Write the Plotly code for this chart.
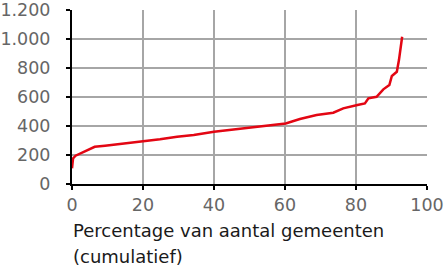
import plotly.graph_objects as go

pct = [0, 0.3, 1.0, 2.2, 3.5, 5.0, 6.4, 9.3, 13.5, 20, 24.8, 29.6, 34.3, 40, 43.8, 48.5,
       53.2, 60.2, 64.2, 68.9, 73.6, 76.4, 80.4, 82.5, 83.5, 85.8, 87.7, 89.4, 90.1,
       91.5, 92.1, 92.6, 93.0]
values = [108, 177, 195, 210, 225, 241, 257, 264, 276, 292, 308, 326, 338, 361, 372, 384,
          400, 418, 448, 476, 492, 522, 545, 556, 591, 602, 653, 683, 745, 774, 855, 947, 1016]

x_ticks = [0, 20, 40, 60, 80, 100]
y_ticks = [0, 200, 400, 600, 800, 1000, 1200]
x_title_lines = ["Percentage van aantal gemeenten", "(cumulatief)"]

fig = go.Figure()
fig.add_trace(go.Scatter(x=pct, y=values, mode="lines",
                         line=dict(color="#e30613", width=2.5), hoverinfo="skip"))

font_family = "DejaVu Sans"
axis_common = dict(showgrid=True, gridcolor="#a6a6a6", gridwidth=1.5, showline=True,
                   linecolor="black", linewidth=2, ticks="outside", ticklen=4,
                   tickcolor="black", tickwidth=1.5, zeroline=False, automargin=False,
                   ticklabeloverflow="allow",
                   tickfont=dict(family=font_family, size=17.5, color="#666666"))
fig.update_layout(
    width=448, height=271,
    margin=dict(l=72, r=21, t=10, b=87),
    paper_bgcolor="white", plot_bgcolor="white",
    separators=",.",
    showlegend=False,
    font=dict(family=font_family, size=17, color="#666666"),
    xaxis=dict(range=[0, 100], tickvals=x_ticks, ticklabelstandoff=0, **axis_common),
    yaxis=dict(range=[0, 1200.5], tickvals=y_ticks, tickformat=",d",
               ticklabelstandoff=12, **axis_common),
)
for line_text, ypos in zip(x_title_lines, [-0.270, -0.414]):
    fig.add_annotation(text=line_text, xref="paper", yref="paper", x=-0.003, y=ypos,
                       xanchor="left", yanchor="middle", align="left", showarrow=False,
                       font=dict(family=font_family, size=18, color="#1a1a1a"))
fig.write_html("out.html")
